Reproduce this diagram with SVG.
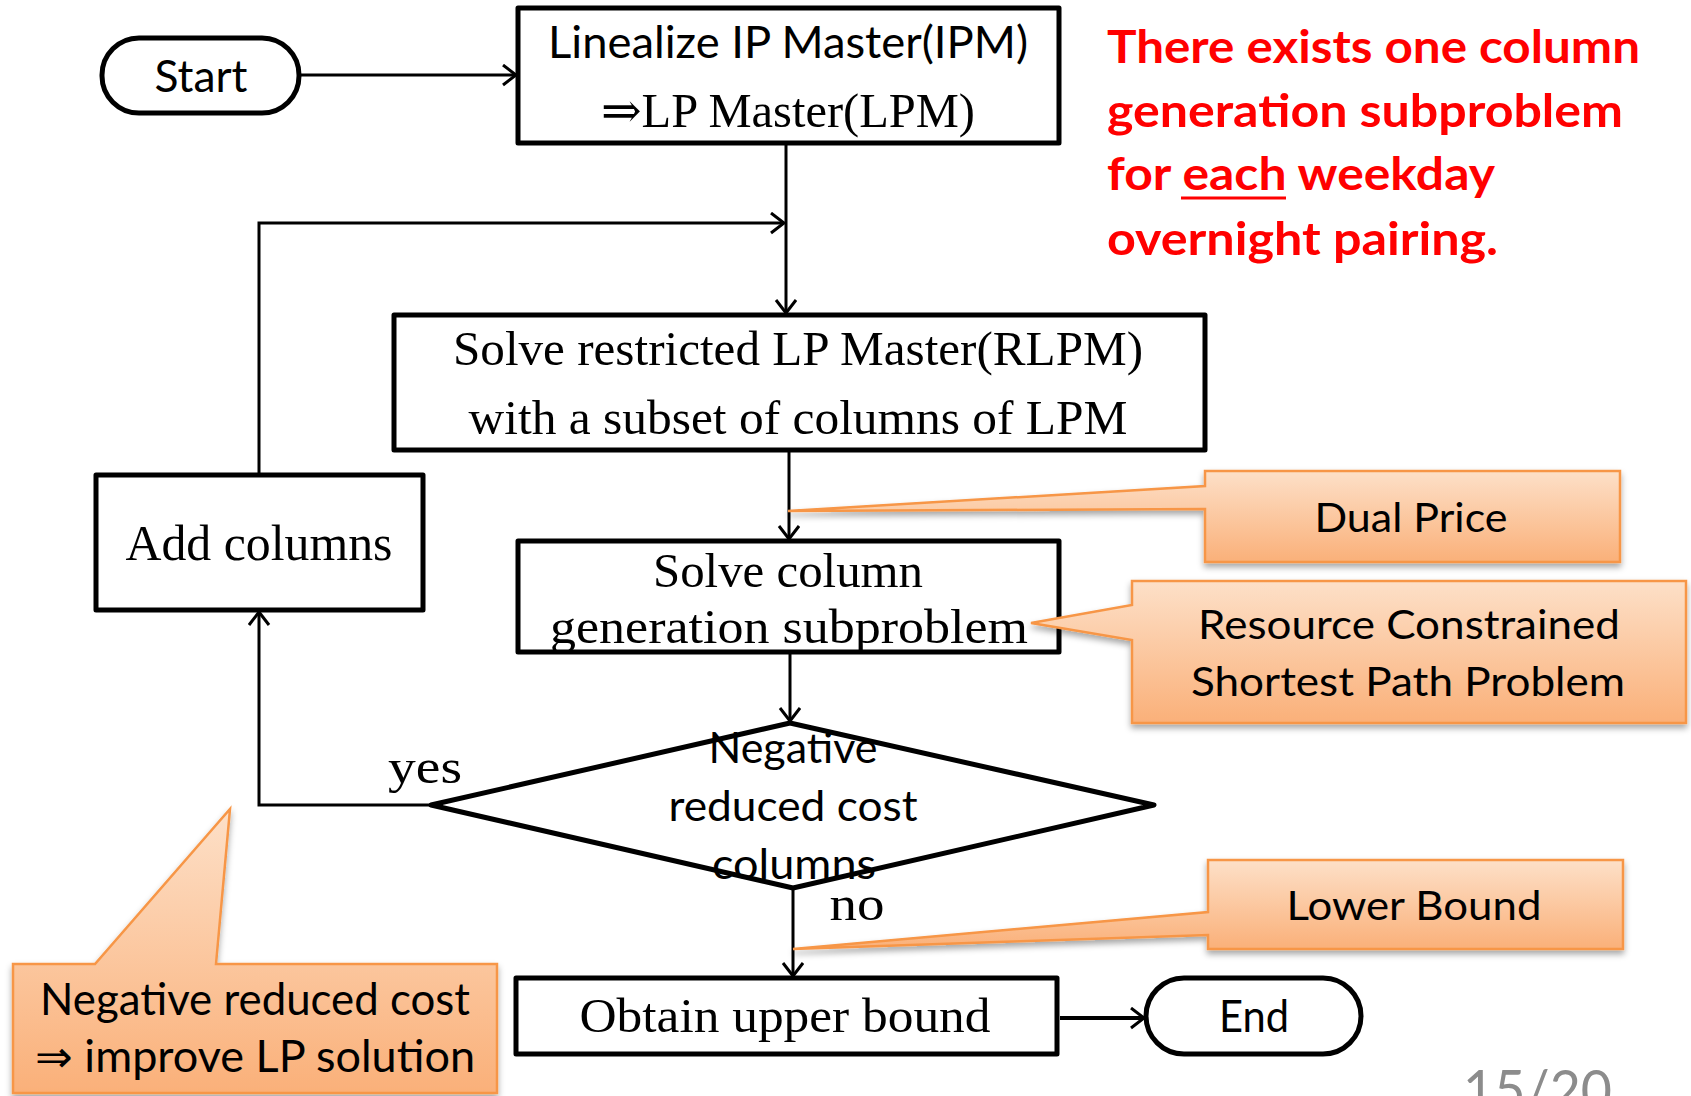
<svg xmlns="http://www.w3.org/2000/svg" width="1691" height="1096" viewBox="0 0 1691 1096">
<style>
.box{fill:#fff;stroke:#000;stroke-width:5;stroke-linejoin:round}
.con{fill:none;stroke:#000;stroke-width:3}
.sans{font-family:Lato,"Open Sans","Liberation Sans",sans-serif;fill:#000}
.serif{font-family:"Liberation Serif","DejaVu Serif",serif;fill:#000}
.call{fill:url(#og);stroke:#f79646;stroke-width:2.5;filter:url(#sh)}
.red{font-family:Lato,"Open Sans","Liberation Sans",sans-serif;font-weight:bold;fill:#ff0000;font-size:46px}
</style>
<defs>
<linearGradient id="og" x1="0" y1="0" x2="0" y2="1">
<stop offset="0" stop-color="#fde0c8"/>
<stop offset="1" stop-color="#fab079"/>
</linearGradient>
<filter id="sh" x="-10%" y="-10%" width="120%" height="130%">
<feDropShadow dx="0" dy="4" stdDeviation="3" flood-color="#000" flood-opacity="0.35"/>
</filter>
<marker id="ar" markerUnits="userSpaceOnUse" markerWidth="20" markerHeight="24" refX="14" refY="11" orient="auto">
<path d="M1,1 L14,11 L1,21" fill="none" stroke="#000" stroke-width="3"/>
</marker>
</defs>

<g id="connectors">
<line class="con" x1="299" y1="75" x2="516" y2="75" marker-end="url(#ar)"/>
<line class="con" x1="786" y1="143" x2="786" y2="313" marker-end="url(#ar)"/>
<path class="con" d="M259,475 V223 H784" marker-end="url(#ar)"/>
<line class="con" x1="789" y1="450" x2="789" y2="539" marker-end="url(#ar)"/>
<line class="con" x1="790" y1="652" x2="790" y2="721" marker-end="url(#ar)"/>
<path class="con" d="M431,805 H259 V612" marker-end="url(#ar)"/>
<line class="con" x1="793" y1="888" x2="793" y2="976" marker-end="url(#ar)"/>
<line class="con" style="stroke-width:4" x1="1060" y1="1018" x2="1144" y2="1018" marker-end="url(#ar)"/>
<text class="serif" x="425" y="783" font-size="48" text-anchor="middle" textLength="74" lengthAdjust="spacingAndGlyphs">yes</text>
<text class="serif" x="857" y="920" font-size="48" text-anchor="middle" textLength="55" lengthAdjust="spacingAndGlyphs">no</text>
</g>

<g id="start">
<rect class="box" x="102" y="38" width="197" height="75" rx="37"/>
<text class="sans" x="201" y="92" font-size="44" text-anchor="middle" textLength="93" lengthAdjust="spacingAndGlyphs">Start</text>
</g>

<g id="linealize">
<rect class="box" x="518" y="8" width="541" height="135"/>
<text class="sans" x="788" y="58" font-size="45" text-anchor="middle" textLength="480" lengthAdjust="spacingAndGlyphs">Linealize IP Master(IPM)</text>
<text class="serif" x="788" y="127" font-size="48" text-anchor="middle" textLength="374" lengthAdjust="spacingAndGlyphs">⇒LP Master(LPM)</text>
</g>

<g id="rlpm">
<rect class="box" x="394" y="315" width="811" height="135"/>
<text class="serif" x="798" y="365" font-size="48" text-anchor="middle" textLength="690" lengthAdjust="spacingAndGlyphs">Solve restricted LP Master(RLPM)</text>
<text class="serif" x="798" y="434" font-size="48" text-anchor="middle" textLength="659" lengthAdjust="spacingAndGlyphs">with a subset of columns of LPM</text>
</g>

<g id="add-columns">
<rect class="box" x="96" y="475" width="327" height="135"/>
<text class="serif" x="259" y="560" font-size="50" text-anchor="middle" textLength="267" lengthAdjust="spacingAndGlyphs">Add columns</text>
</g>

<g id="solve-sub">
<rect class="box" x="518" y="541" width="541" height="111"/>
<text class="serif" x="788" y="587" font-size="48" text-anchor="middle" textLength="270" lengthAdjust="spacingAndGlyphs">Solve column</text>
<text class="serif" x="789" y="643" font-size="48" text-anchor="middle" textLength="478" lengthAdjust="spacingAndGlyphs">generation subproblem</text>
</g>

<g id="decision">
<polygon points="431,805 790,723 1154,805 793,888" fill="#fff" stroke="#000" stroke-width="5" stroke-linejoin="round"/>
<text class="sans" x="793" y="763" font-size="42" text-anchor="middle" textLength="169" lengthAdjust="spacingAndGlyphs">Negative</text>
<text class="sans" x="793" y="821" font-size="42" text-anchor="middle" textLength="249" lengthAdjust="spacingAndGlyphs">reduced cost</text>
<text class="sans" x="794" y="879" font-size="42" text-anchor="middle" textLength="164" lengthAdjust="spacingAndGlyphs">columns</text>
</g>

<g id="obtain">
<rect class="box" x="516" y="978" width="541" height="76"/>
<text class="serif" x="785" y="1032" font-size="48" text-anchor="middle" textLength="411" lengthAdjust="spacingAndGlyphs">Obtain upper bound</text>
</g>

<g id="end">
<rect class="box" x="1146" y="978" width="215" height="76" rx="38"/>
<text class="sans" x="1254" y="1032" font-size="44" text-anchor="middle" textLength="70" lengthAdjust="spacingAndGlyphs">End</text>
</g>

<g id="callout-dual">
<path class="call" d="M1205,471 H1620 V562 H1205 V509 L788,511 L1205,486 Z"/>
<text class="sans" x="1411" y="532" font-size="40" text-anchor="middle" textLength="193" lengthAdjust="spacingAndGlyphs">Dual Price</text>
</g>

<g id="callout-rcsp">
<path class="call" d="M1132,581 H1686 V723 H1132 V640 L1031,623 L1132,605 Z"/>
<text class="sans" x="1409" y="639" font-size="40" text-anchor="middle" textLength="422" lengthAdjust="spacingAndGlyphs">Resource Constrained</text>
<text class="sans" x="1408" y="696" font-size="40" text-anchor="middle" textLength="434" lengthAdjust="spacingAndGlyphs">Shortest Path Problem</text>
</g>

<g id="callout-lower">
<path class="call" d="M1208,860 H1623 V949 H1208 V935 L793,949 L1208,912 Z"/>
<text class="sans" x="1414" y="920" font-size="40" text-anchor="middle" textLength="255" lengthAdjust="spacingAndGlyphs">Lower Bound</text>
</g>

<g id="callout-neg">
<path class="call" d="M13,964 H95 L230,809 L216,964 H497 V1093 H13 Z"/>
<text class="sans" x="255" y="1015" font-size="44" text-anchor="middle" textLength="430" lengthAdjust="spacingAndGlyphs">Negative reduced cost</text>
<text class="sans" x="255" y="1072" font-size="44" text-anchor="middle" textLength="440" lengthAdjust="spacingAndGlyphs">⇒ improve LP solution</text>
</g>

<g id="note">
<text class="red" x="1107" y="63" textLength="533" lengthAdjust="spacingAndGlyphs">There exists one column</text>
<text class="red" x="1107" y="127" textLength="516" lengthAdjust="spacingAndGlyphs">generation subproblem</text>
<text class="red" x="1107" y="190" textLength="388" lengthAdjust="spacingAndGlyphs">for each weekday</text>
<line x1="1181" y1="198" x2="1286" y2="198" stroke="#ff0000" stroke-width="3"/>
<text class="red" x="1107" y="255" textLength="391" lengthAdjust="spacingAndGlyphs">overnight pairing.</text>
</g>

<g id="page">
<text x="1463" y="1110" font-family="Lato,'Open Sans',sans-serif" font-size="56" fill="#8c8c8c" textLength="149" lengthAdjust="spacingAndGlyphs">15/20</text>
</g>
</svg>
